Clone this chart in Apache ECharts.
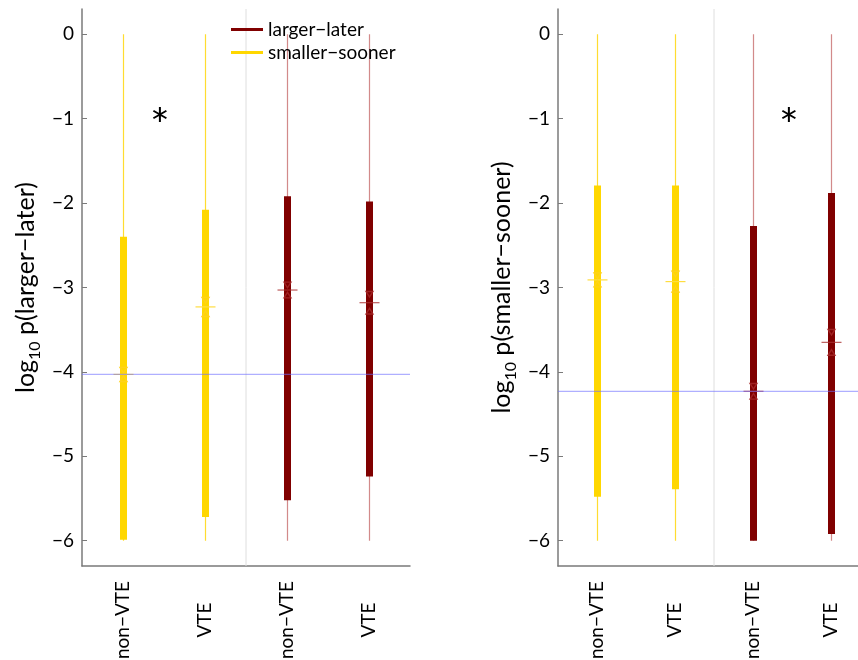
<!DOCTYPE html>
<html>
<head>
<meta charset="utf-8">
<script src="https://cdn.jsdelivr.net/npm/echarts@6/dist/echarts.min.js"></script>
<style>
  html, body { margin: 0; padding: 0; background: #fff; }
  #chart { width: 858px; height: 660px; }
</style>
</head>
<body>
<div id="chart"></div>
<script>
// group labels and positions on the x axis of each panel
const groupLabels = ['non−VTE', 'VTE', 'non−VTE', 'VTE'];
const groupPos = [1, 2, 3, 4];
// 0 = smaller-sooner choice, 1 = larger-later choice
const groupChoice = [0, 0, 1, 1];
const choiceNames = ['smaller−sooner', 'larger−later'];
const tickValues = [-6, -5, -4, -3, -2, -1, 0];
const yMin = -6.3, yMax = 0.3;

// left panel: log10 p(larger-later)
const llWhiskerLow  = [-6.0, -6.0, -6.0, -6.0];
const llBoxLow      = [-5.99, -5.72, -5.52, -5.24];
const llMedian      = [-4.03, -3.23, -3.03, -3.18];
const llBoxHigh     = [-2.40, -2.08, -1.92, -1.98];
const llWhiskerHigh = [0, 0, 0, 0];
const llNotch       = [0.05, 0.08, 0.06, 0.10];
const llChance = -4.03;
const llStar = [1.45, -0.95];

// right panel: log10 p(smaller-sooner)
const ssWhiskerLow  = [-6.0, -6.0, -6.0, -6.0];
const ssBoxLow      = [-5.48, -5.39, -6.0, -5.92];
const ssMedian      = [-2.91, -2.93, -4.23, -3.65];
const ssBoxHigh     = [-1.79, -1.79, -2.27, -1.88];
const ssWhiskerHigh = [0, 0, 0, 0];
const ssNotch       = [0.05, 0.09, 0.06, 0.12];
const ssChance = -4.23;
const ssStar = [3.46, -0.95];

const FONT = 'Lato';
const palettes = [
  { box: '#FFD700', whisker: '#FFDC30', median: '#FFDD40', notch: '#FFD21A' },
  { box: '#800000', whisker: 'rgba(180,60,60,0.6)', median: 'rgba(170,50,50,0.8)', notch: 'rgba(165,40,40,0.85)' }
];

function boxRows(wl, bl, md, bh, wh, nt) {
  return groupPos.map((p, i) => [p, wl[i], bl[i], md[i], bh[i], wh[i], nt[i], groupChoice[i]]);
}

function tri(cx, cy, s, down) {
  const h = s * 0.8;
  return down
    ? [[cx - s / 2, cy - h / 2], [cx + s / 2, cy - h / 2], [cx, cy + h / 2]]
    : [[cx - s / 2, cy + h / 2], [cx + s / 2, cy + h / 2], [cx, cy - h / 2]];
}

function renderBox(params, api) {
  const x = api.value(0);
  const pal = palettes[api.value(7)];
  const md = api.value(3), nt = api.value(6);
  const pWL = api.coord([x, api.value(1)]);
  const pBL = api.coord([x, api.value(2)]);
  const pMD = api.coord([x, md]);
  const pBH = api.coord([x, api.value(4)]);
  const pWH = api.coord([x, api.value(5)]);
  const pNU = api.coord([x, md + nt]);
  const pNL = api.coord([x, md - nt]);
  const cx = Math.round(pMD[0]) + 0.5;
  const bw = 7;
  return {
    type: 'group',
    children: [
      { type: 'line', shape: { x1: cx, y1: pWH[1], x2: cx, y2: pWL[1] },
        style: { stroke: pal.whisker, lineWidth: 1.2 } },
      { type: 'rect', shape: { x: cx - bw / 2, y: pBH[1], width: bw, height: pBL[1] - pBH[1] },
        style: { fill: pal.box } },
      { type: 'line', shape: { x1: cx - 10, y1: pMD[1], x2: cx + 10, y2: pMD[1] },
        style: { stroke: pal.median, lineWidth: 1.2 } },
      { type: 'polygon', shape: { points: tri(cx, pNU[1], 7, true) },
        style: { fill: 'none', stroke: pal.notch, lineWidth: 1.4 } },
      { type: 'polygon', shape: { points: tri(cx, pNL[1], 7, false) },
        style: { fill: 'none', stroke: pal.notch, lineWidth: 1.4 } }
    ]
  };
}

function renderGuides(params, api) {
  const sep = (groupPos[1] + groupPos[2]) / 2;
  const s0 = api.coord([sep, yMin]), s1 = api.coord([sep, yMax]);
  return {
    type: 'line', shape: { x1: s0[0], y1: s0[1], x2: s1[0], y2: s1[1] },
    style: { stroke: '#dedede', lineWidth: 1 }
  };
}

function renderChance(params, api) {
  const v = api.value(0);
  const a = api.coord([groupPos[0] - 0.5, v]), b = api.coord([groupPos[3] + 0.5, v]);
  return {
    type: 'line', shape: { x1: a[0], y1: a[1], x2: b[0], y2: b[1] },
    style: { stroke: 'rgba(110,110,255,0.55)', lineWidth: 1.3 }
  };
}

function renderStar(params, api) {
  const p = api.coord([api.value(0), api.value(1)]);
  const r = 7.5;
  const arms = [90, 30, 150].map(deg => {
    const t = deg * Math.PI / 180;
    return { type: 'line',
      shape: { x1: p[0] - r * Math.cos(t), y1: p[1] - r * Math.sin(t), x2: p[0] + r * Math.cos(t), y2: p[1] + r * Math.sin(t) },
      style: { stroke: '#000', lineWidth: 2 } };
  });
  return { type: 'group', children: arms };
}

function xAxisFor(gridIndex) {
  return {
    type: 'value', gridIndex, min: groupPos[0] - 0.5, max: groupPos[3] + 0.5,
    axisLine: { show: true, onZero: false, lineStyle: { color: '#7a7a7a', width: 1.5 } },
    axisTick: { show: false },
    splitLine: { show: false },
    axisLabel: {
      customValues: groupPos, rotate: 90, margin: 54,
      align: 'center', verticalAlign: 'middle',
      formatter: v => groupLabels[groupPos.indexOf(v)] || '',
      fontFamily: FONT, fontSize: 19, color: '#000'
    }
  };
}

function yAxisFor(gridIndex, title) {
  return {
    type: 'value', gridIndex, min: yMin, max: yMax,
    axisLine: { show: true, onZero: false, lineStyle: { color: '#7a7a7a', width: 1.5 } },
    axisTick: { show: true, inside: true, length: 5, customValues: tickValues, lineStyle: { color: '#7a7a7a' } },
    splitLine: { show: false },
    axisLabel: {
      customValues: tickValues, margin: 8,
      formatter: v => String(v).replace('-', '−'),
      fontFamily: FONT, fontSize: 19, color: '#000'
    },
    name: '{a|log}{b|10}{a| ' + title + '}',
    nameLocation: 'middle', nameRotate: 90, nameGap: 39,
    nameTextStyle: {
      rich: {
        a: { fontFamily: FONT, fontSize: 25, color: '#000', verticalAlign: 'top' },
        b: { fontFamily: FONT, fontSize: 16, color: '#000', verticalAlign: 'top', padding: [14, 0, 0, 0] }
      }
    }
  };
}

const chart = echarts.init(document.getElementById('chart'), null, { renderer: 'canvas' });
chart.setOption({
  animation: false,
  backgroundColor: '#fff',
  textStyle: { fontFamily: FONT },
  grid: [
    { left: 82, top: 9, width: 328, height: 557, outerBoundsMode: 'none' },
    { left: 558, top: 9, width: 312, height: 557, outerBoundsMode: 'none' }
  ],
  xAxis: [xAxisFor(0), xAxisFor(1)],
  yAxis: [yAxisFor(0, 'p(larger−later)'), yAxisFor(1, 'p(smaller−sooner)')],
  legend: {
    orient: 'vertical', left: 226, top: 15, itemGap: 4,
    icon: 'rect', itemWidth: 32, itemHeight: 3,
    data: [choiceNames[1], choiceNames[0]],
    textStyle: { fontFamily: FONT, fontSize: 19, color: '#000' }
  },
  series: [
    { type: 'custom', name: 'sepL', xAxisIndex: 0, yAxisIndex: 0, data: [[0]], renderItem: renderGuides, silent: true, z: 1 },
    { type: 'custom', name: 'sepR', xAxisIndex: 1, yAxisIndex: 1, data: [[0]], renderItem: renderGuides, silent: true, z: 1 },
    { type: 'custom', name: 'boxesL', xAxisIndex: 0, yAxisIndex: 0, z: 2,
      data: boxRows(llWhiskerLow, llBoxLow, llMedian, llBoxHigh, llWhiskerHigh, llNotch), renderItem: renderBox },
    { type: 'custom', name: 'boxesR', xAxisIndex: 1, yAxisIndex: 1, z: 2,
      data: boxRows(ssWhiskerLow, ssBoxLow, ssMedian, ssBoxHigh, ssWhiskerHigh, ssNotch), renderItem: renderBox },
    { type: 'custom', name: 'chanceL', xAxisIndex: 0, yAxisIndex: 0, z: 3, data: [[llChance]], renderItem: renderChance },
    { type: 'custom', name: 'chanceR', xAxisIndex: 1, yAxisIndex: 1, z: 3, data: [[ssChance]], renderItem: renderChance },
    { type: 'custom', name: 'starL', xAxisIndex: 0, yAxisIndex: 0, z: 3, data: [llStar], renderItem: renderStar },
    { type: 'custom', name: 'starR', xAxisIndex: 1, yAxisIndex: 1, z: 3, data: [ssStar], renderItem: renderStar },
    { type: 'line', name: choiceNames[1], xAxisIndex: 0, yAxisIndex: 0, data: [], color: '#800000' },
    { type: 'line', name: choiceNames[0], xAxisIndex: 0, yAxisIndex: 0, data: [], color: '#FFD700' }
  ]
});
</script>
</body>
</html>
